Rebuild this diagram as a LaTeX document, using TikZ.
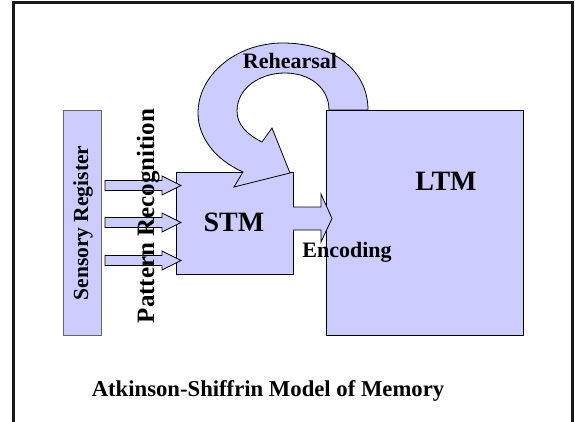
\documentclass[tikz,border=0pt]{standalone}
\usepackage{fontspec}
\setmainfont{Liberation Serif}
\definecolor{boxfill}{HTML}{CCCCFF}
\tikzset{
  box/.style={draw=black, fill=boxfill, line width=0.8pt, inner sep=0pt, anchor=north west},
  blockarrow/.style={draw=black, fill=boxfill, line width=0.8pt, line join=miter},
  lbl/.style={inner sep=0pt, font=\bfseries},
}
\begin{document}
\begin{tikzpicture}[x=1pt,y=-1pt]
\useasboundingbox (0,0) rectangle (575,422);
% frame
\draw[line width=3pt, black!90] (13.5,424) -- (13.5,3) -- (572.5,3) -- (572.5,424);
% boxes
\node[box, draw=black!60, minimum width=38pt, minimum height=225pt] (sr) at (63,110) {};
\node[box, minimum width=117pt, minimum height=102pt] (stm) at (176,172) {};
\node[box, minimum width=197pt, minimum height=225pt] (ltm) at (326,110) {};
% pattern recognition arrows
\foreach \yc/\nm in {185.5/a, 222.5/b, 260.5/c} {
  \draw[blockarrow] (105,\yc-5) -- (162,\yc-5) -- (162,\yc-9.5) -- (181,\yc) -- (162,\yc+9.5) -- (162,\yc+5) -- (105,\yc+5) -- cycle;
}
% encoding arrow
\draw[blockarrow] (293,207) -- (321,207) -- (321,194) -- (332,218.5) -- (321,242) -- (321,230) -- (293,230);
% rehearsal arrow
\draw[blockarrow] (368,110) .. controls (368,68) and (330,43) .. (283,43)
  .. controls (236,43) and (198,75) .. (198,113)
  .. controls (198,138) and (216,160) .. (243,172)
  -- (234,187) -- (290,173) -- (272,128) -- (262,142)
  .. controls (246,134) and (237,124) .. (237,111)
  .. controls (237,88) and (260,73) .. (285,73)
  .. controls (310,73) and (329,88) .. (329,110) -- cycle;
% labels
\node[lbl, font=\bfseries\fontsize{28}{30}\selectfont] (stmt) at (234,222) {STM};
\node[lbl, font=\bfseries\fontsize{28}{30}\selectfont] (ltmt) at (446,181) {LTM};
\node[lbl, font=\bfseries\fontsize{22}{24}\selectfont, anchor=base] (reh) at (290,69) {Rehearsal};
\node[lbl, font=\bfseries\fontsize{22}{24}\selectfont, anchor=base] (enc) at (347,257) {Encoding};
\node[lbl, font=\bfseries\fontsize{21.5}{24}\selectfont, rotate=90, anchor=base] (srt) at (88,223) {Sensory Register};
\node[lbl, font=\bfseries\fontsize{25}{27}\selectfont, rotate=90, anchor=base] (prt) at (154,216) {Pattern Recognition};
\node[lbl, font=\bfseries\fontsize{22.7}{25}\selectfont, anchor=base] (title) at (268,396) {Atkinson-Shiffrin Model of Memory};
\end{tikzpicture}
\end{document}
